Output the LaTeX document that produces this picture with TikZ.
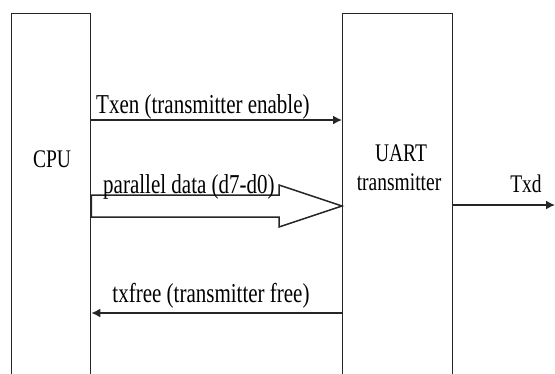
\documentclass[tikz,border=0pt]{standalone}
\usepackage{fontspec}
\setmainfont{Liberation Serif}
\usetikzlibrary{arrows.meta,calc}
% narrow, tall lettering
\newcommand\tallt[1]{\scalebox{1}[1.3]{#1}}
\begin{document}
\begin{tikzpicture}[x=1pt,y=-1pt,
  block/.style={draw=black!85,line width=1.3pt,inner sep=0pt,anchor=north west},
  sig/.style={draw=black!85,line width=1.6pt,-{Latex[length=9pt,width=9pt]}},
  lbl/.style={inner sep=0pt,anchor=base west,font=\fontsize{21}{24}\selectfont},
  boxtext/.style={inner sep=0pt,anchor=base,font=\fontsize{19.5}{22}\selectfont}]
\useasboundingbox (0,0) rectangle (555,373);
\clip (0,0) rectangle (555,373);
\fill[white] (0,0) rectangle (555,373);

% the two blocks run past the lower edge
\node[block,minimum width=79pt,minimum height=420pt] (cpu) at (11,13) {};
\node[block,minimum width=110pt,minimum height=420pt] (uart) at (342,13) {};

\node[boxtext] (cputxt) at (52,167) {\tallt{CPU}};
\node[boxtext] (uarttxt) at (401,161) {\tallt{UART}};
\node[boxtext] (trtxt) at (399,190) {\tallt{transmitter}};

% signal rows
\coordinate (rowen) at (0,120);
\coordinate (rowpd) at (0,206);
\coordinate (rowfree) at (0,313);
\coordinate (txdend) at (555,205);

% transmitter enable
\draw[sig] (cpu.east |- rowen) -- (uart.west |- rowen);
\node[lbl] (txenlbl) at (96,113) {\tallt{Txen (transmitter enable)}};

% wide data arrow
\coordinate (tip) at (uart.west |- rowpd);
\coordinate (tail) at (cpu.east |- rowpd);
\draw[draw=black!85,line width=1.5pt,fill=white,line join=miter]
  (tip) -- ($(tip)+(-63,-21)$) -- ($(tip)+(-63,-11)$) -- ($(tail)+(0,-11)$)
  -- ($(tail)+(0,11)$) -- ($(tip)+(-63,11)$) -- ($(tip)+(-63,21)$) -- cycle;
\node[lbl] (pdlbl) at (103,193) {\tallt{parallel data (d7-d0)}};

% transmitter free
\draw[sig] (uart.west |- rowfree) -- (cpu.east |- rowfree);
\node[lbl,anchor=base] (freelbl) at (211,302) {\tallt{txfree (transmitter free)}};

% serial output
\draw[sig] (uart.east |- txdend) -- (txdend);
\node[boxtext] (txdlbl) at (526,192) {\tallt{Txd}};
\end{tikzpicture}
\end{document}
